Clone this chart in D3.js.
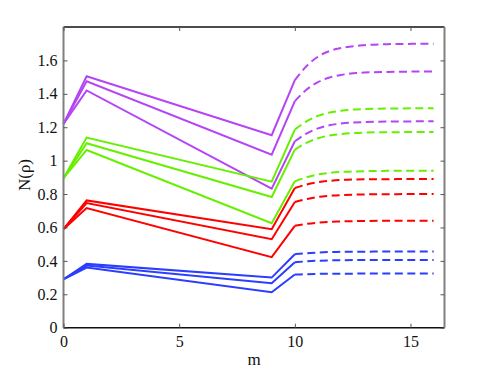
<!DOCTYPE html>
<html><head><meta charset="utf-8">
<script src="https://cdn.jsdelivr.net/npm/d3@7"></script>
<style>body{margin:0;background:#fff}svg{display:block}</style>
</head><body><svg id="c" width="491" height="369"></svg>
<script>
// Data
const xSolid = [0, 1, 9, 10];
const xDash = [10, 10.5, 11, 11.5, 12, 13, 14, 15, 16];
const xTicks = [0, 5, 10, 15];
const yTicks = [0, 0.2, 0.4, 0.6, 0.8, 1, 1.2, 1.4, 1.6];
const yTickLabels = ["0", "0.2", "0.4", "0.6", "0.8", "1", "1.2", "1.4", "1.6"];
const groups = ["purple", "green", "red", "blue"];
const groupColors = ["#b444f5", "#66f000", "#ff0000", "#2b3dff"];

const purpleSolid = [[1.22, 1.505, 1.152, 1.482], [1.22, 1.475, 1.036, 1.356], [1.22, 1.42, 0.832, 1.116]];
const purpleDash = [[1.482, 1.565, 1.622, 1.656, 1.674, 1.691, 1.697, 1.699, 1.700],
                    [1.356, 1.424, 1.470, 1.498, 1.513, 1.527, 1.531, 1.533, 1.534],
                    [1.116, 1.162, 1.193, 1.212, 1.222, 1.231, 1.234, 1.235, 1.236]];
const greenSolid = [[0.895, 1.138, 0.874, 1.186], [0.895, 1.104, 0.782, 1.066], [0.895, 1.064, 0.626, 0.876]];
const greenDash = [[1.186, 1.235, 1.268, 1.288, 1.299, 1.309, 1.312, 1.313, 1.314],
                   [1.066, 1.106, 1.134, 1.151, 1.159, 1.168, 1.170, 1.171, 1.172],
                   [0.876, 0.900, 0.917, 0.927, 0.932, 0.937, 0.939, 0.940, 0.940]];
const redSolid = [[0.59, 0.762, 0.59, 0.836], [0.59, 0.746, 0.53, 0.752], [0.59, 0.716, 0.422, 0.61]];
const redDash = [[0.836, 0.857, 0.871, 0.879, 0.884, 0.888, 0.889, 0.890, 0.890],
                 [0.752, 0.770, 0.783, 0.790, 0.794, 0.798, 0.799, 0.800, 0.800],
                 [0.610, 0.621, 0.629, 0.634, 0.636, 0.639, 0.640, 0.640, 0.640]];
const blueSolid = [[0.29, 0.382, 0.300, 0.440], [0.29, 0.372, 0.266, 0.392], [0.29, 0.360, 0.212, 0.318]];
const blueDash = [[0.440, 0.446, 0.450, 0.453, 0.454, 0.455, 0.456, 0.456, 0.456],
                  [0.392, 0.397, 0.401, 0.403, 0.404, 0.405, 0.406, 0.406, 0.406],
                  [0.318, 0.320, 0.322, 0.323, 0.323, 0.324, 0.324, 0.324, 0.324]];

const solids = [purpleSolid, greenSolid, redSolid, blueSolid];
const dashes = [purpleDash, greenDash, redDash, blueDash];

const FONT = "'Liberation Serif'";
const L = 63.5, R = 444.5, T = 27, B = 327.7;
const svg = d3.select("#c");
const x = d3.scaleLinear().domain([0, 16.47]).range([L, R]);
const y = d3.scaleLinear().domain([0, 1.8]).range([B, T]);

// Lines
const lineSolid = d3.line().x((d, i) => x(xSolid[i])).y(d => y(d));
const lineDash = d3.line().x((d, i) => x(xDash[i])).y(d => y(d)).curve(d3.curveMonotoneX);
const gl = svg.append("g");
groups.forEach((g, gi) => {
  solids[gi].forEach(s => {
    gl.append("path").attr("d", lineSolid(s)).attr("fill", "none")
      .attr("stroke", groupColors[gi]).attr("stroke-width", 2).attr("stroke-linejoin", "miter");
  });
  dashes[gi].forEach(s => {
    gl.append("path").attr("d", lineDash(s)).attr("fill", "none")
      .attr("stroke", groupColors[gi]).attr("stroke-width", 2).attr("stroke-dasharray", "8,4.5");
  });
});

// Frame
svg.append("line").attr("x1", L).attr("x2", R).attr("y1", T).attr("y2", T).attr("stroke", "#111").attr("stroke-width", 1.5);
svg.append("line").attr("x1", L).attr("x2", R).attr("y1", B).attr("y2", B).attr("stroke", "#111").attr("stroke-width", 1.5);
svg.append("line").attr("x1", L).attr("x2", L).attr("y1", T).attr("y2", B).attr("stroke", "#808080").attr("stroke-width", 2);
svg.append("line").attr("x1", R).attr("x2", R).attr("y1", T).attr("y2", B).attr("stroke", "#808080").attr("stroke-width", 2);

// Axes via d3 axis generators
const xb = d3.axisBottom(x).tickValues(xTicks).tickSize(-4).tickPadding(8).tickFormat(d3.format("d"));
const gx = svg.append("g").attr("transform", `translate(0,${B})`).call(xb);
const xt = d3.axisTop(x).tickValues(xTicks).tickSize(-4).tickFormat("");
const gxt = svg.append("g").attr("transform", `translate(0,${T})`).call(xt);
const yl = d3.axisLeft(y).tickValues(yTicks).tickSize(-4).tickPadding(6).tickFormat((d, i) => yTickLabels[i]);
const gy = svg.append("g").attr("transform", `translate(${L},0)`).call(yl);
const yr = d3.axisRight(y).tickValues(yTicks).tickSize(-4).tickFormat("");
const gyr = svg.append("g").attr("transform", `translate(${R},0)`).call(yr);
[gx, gxt, gy, gyr].forEach(g => {
  g.attr("font-family", FONT).attr("font-size", 16);
  g.select(".domain").remove();
  g.selectAll(".tick line").attr("stroke", "#555").attr("stroke-width", 1);
  g.selectAll("text").attr("fill", "#111");
});

svg.append("text").attr("x", (L + R) / 2).attr("y", 365).attr("text-anchor", "middle")
  .attr("font-size", 17).attr("font-family", FONT).attr("fill", "#111").text("m");
svg.append("text").attr("transform", "translate(30,175) rotate(-90)").attr("text-anchor", "middle")
  .attr("font-size", 17).attr("font-family", FONT).attr("fill", "#111").text("N(ρ)");
</script></body></html>
